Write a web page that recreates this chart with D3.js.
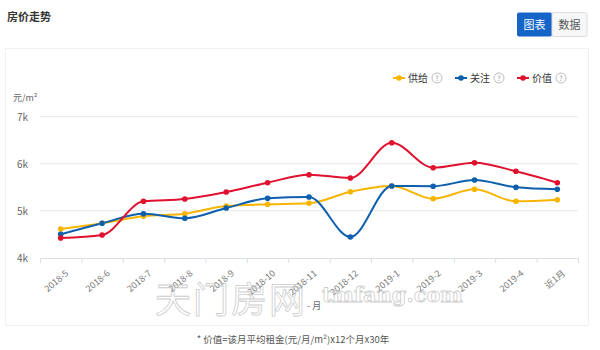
<!DOCTYPE html>
<html><head><meta charset="utf-8">
<script src="https://cdn.jsdelivr.net/npm/d3@7"></script>
<style>
body{margin:0;background:#fff;font-family:"Noto Sans CJK SC","Noto Sans",sans-serif;}
svg{display:block}
</style></head>
<body><svg id="c" width="600" height="350"></svg>
<script>
const categories = ["2018-5","2018-6","2018-7","2018-8","2018-9","2018-10","2018-11","2018-12","2019-1","2019-2","2019-3","2019-4","近1月"];
const supplyValues = [4611,4732,4881,4936,5100,5136,5157,5404,5526,5255,5455,5200,5234];
const attentionValues = [4498,4732,4936,4838,5057,5263,5291,4440,5526,5520,5653,5497,5455];
const valueValues = [4419,4483,5200,5249,5398,5596,5766,5696,6447,5915,6021,5838,5596];
const seriesNames = ["供给","关注","价值"];
const seriesColors = ["#f7b500","#0e5fae","#e0102f"];
const yTicks = [4000,5000,6000,7000];
const yTickLabels = ["4k","5k","6k","7k"];

const svg = d3.select("#c");
const font = '"Noto Sans CJK SC","Noto Sans",sans-serif';

// header
svg.append("text").attr("x",7).attr("y",21).attr("font-size",11).attr("font-weight","bold")
  .attr("fill","#333").attr("font-family",font).text("房价走势");
svg.append("rect").attr("x",517).attr("y",12.5).attr("width",35).attr("height",24).attr("rx",2)
  .attr("fill","#1565c8");
svg.append("rect").attr("x",552).attr("y",12.5).attr("width",35).attr("height",24).attr("rx",2)
  .attr("fill","#f7f7f7").attr("stroke","#ddd");
svg.append("text").attr("x",534.5).attr("y",28.5).attr("text-anchor","middle").attr("font-size",11)
  .attr("fill","#fff").attr("font-family",font).text("图表");
svg.append("text").attr("x",569.5).attr("y",28.5).attr("text-anchor","middle").attr("font-size",11)
  .attr("fill","#555").attr("font-family",font).text("数据");

// card
svg.append("rect").attr("x",5.5).attr("y",48.5).attr("width",583).attr("height",277).attr("fill","#fff")
  .attr("stroke","#f0f0f0");

// scales
const x = d3.scaleBand().domain(categories).range([40,578]);
const y = d3.scaleLinear().domain([4000,7000]).range([257.7,116.7]);

// grid
svg.append("g").selectAll("line").data(yTicks.slice(1)).join("line")
  .attr("x1",40).attr("x2",578).attr("y1",d=>y(d)).attr("y2",d=>y(d))
  .attr("stroke","#e6e8ec").attr("stroke-width",1);

// y labels
svg.append("g").selectAll("text").data(yTicks).join("text")
  .attr("x",28).attr("y",d=>y(d)+4).attr("text-anchor","end").attr("font-size",10)
  .attr("fill","#666").attr("font-family",font).text((d,i)=>yTickLabels[i]);
svg.append("text").attr("x",13).attr("y",101).attr("font-size",9).attr("fill","#666")
  .attr("font-family",font).text("元/m²");

// x axis
const xAxis = d3.axisBottom(x).tickSize(4).tickSizeOuter(0);
const gx = svg.append("g").attr("transform","translate(0,258)").call(xAxis);
gx.select(".domain").attr("stroke","#d8dde6");
gx.selectAll(".tick line").remove();
const bounds = categories.map(c=>x(c)).concat([578]);
gx.selectAll(".bt").data(bounds).join("line").attr("class","bt")
  .attr("x1",d=>d+0.5).attr("x2",d=>d+0.5).attr("y1",0).attr("y2",5).attr("stroke","#d8dde6");
gx.selectAll(".tick text").attr("font-size",9).attr("fill","#777").attr("font-family",font)
  .attr("text-anchor","end").attr("dy",0).attr("dx",0)
  .attr("transform","translate(4,11) rotate(-40)");

// watermark
const wm = svg.append("g").attr("fill","none").attr("stroke","#c8c8c8").attr("stroke-width",0.8).attr("opacity",0.9);
wm.append("text").attr("x",155).attr("y",313).attr("font-size",36).attr("font-family",font)
  .attr("letter-spacing",2).text("天门房网");
wm.append("text").attr("x",322).attr("y",302).attr("font-size",21).attr("font-family","DejaVu Serif, serif")
  .attr("font-weight","bold").text("tmfang.com");
svg.append("text").attr("x",307).attr("y",309).attr("font-size",9).attr("fill","#666")
  .attr("font-family",font).text("- 月");

// lines
const seriesData = [supplyValues, attentionValues, valueValues];
const line = d3.line().x((d,i)=>x(categories[i])+x.bandwidth()/2).y(d=>y(d)).curve(d3.curveMonotoneX);
seriesData.forEach((vals,si)=>{
  svg.append("path").datum(vals).attr("d",line).attr("fill","none")
    .attr("stroke",seriesColors[si]).attr("stroke-width",2);
});
seriesData.forEach((vals,si)=>{
  svg.append("g").selectAll("circle").data(vals).join("circle")
    .attr("cx",(d,i)=>x(categories[i])+x.bandwidth()/2).attr("cy",d=>y(d)).attr("r",2.8)
    .attr("fill",seriesColors[si]);
});

// legend
const legX = [393,455,517];
seriesNames.forEach((n,i)=>{
  const g = svg.append("g").attr("transform",`translate(${legX[i]},78)`);
  g.append("line").attr("x1",0).attr("x2",12).attr("y1",0).attr("y2",0).attr("stroke",seriesColors[i]).attr("stroke-width",2);
  g.append("circle").attr("cx",6).attr("cy",0).attr("r",2.8).attr("fill",seriesColors[i]);
  g.append("text").attr("x",15).attr("y",4).attr("font-size",10).attr("fill","#333").attr("font-family",font).text(n);
  g.append("circle").attr("cx",44).attr("cy",0).attr("r",5).attr("fill","none").attr("stroke","#aaa").attr("stroke-width",0.8);
  g.append("text").attr("x",44).attr("y",3).attr("text-anchor","middle").attr("font-size",7).attr("fill","#999").attr("font-family",font).text("?");
});

// footnote
svg.append("text").attr("x",293).attr("y",343).attr("text-anchor","middle").attr("font-size",9.5)
  .attr("fill","#555").attr("font-family",font).text("* 价值=该月平均租金(元/月/m²)x12个月x30年");
</script></body></html>
